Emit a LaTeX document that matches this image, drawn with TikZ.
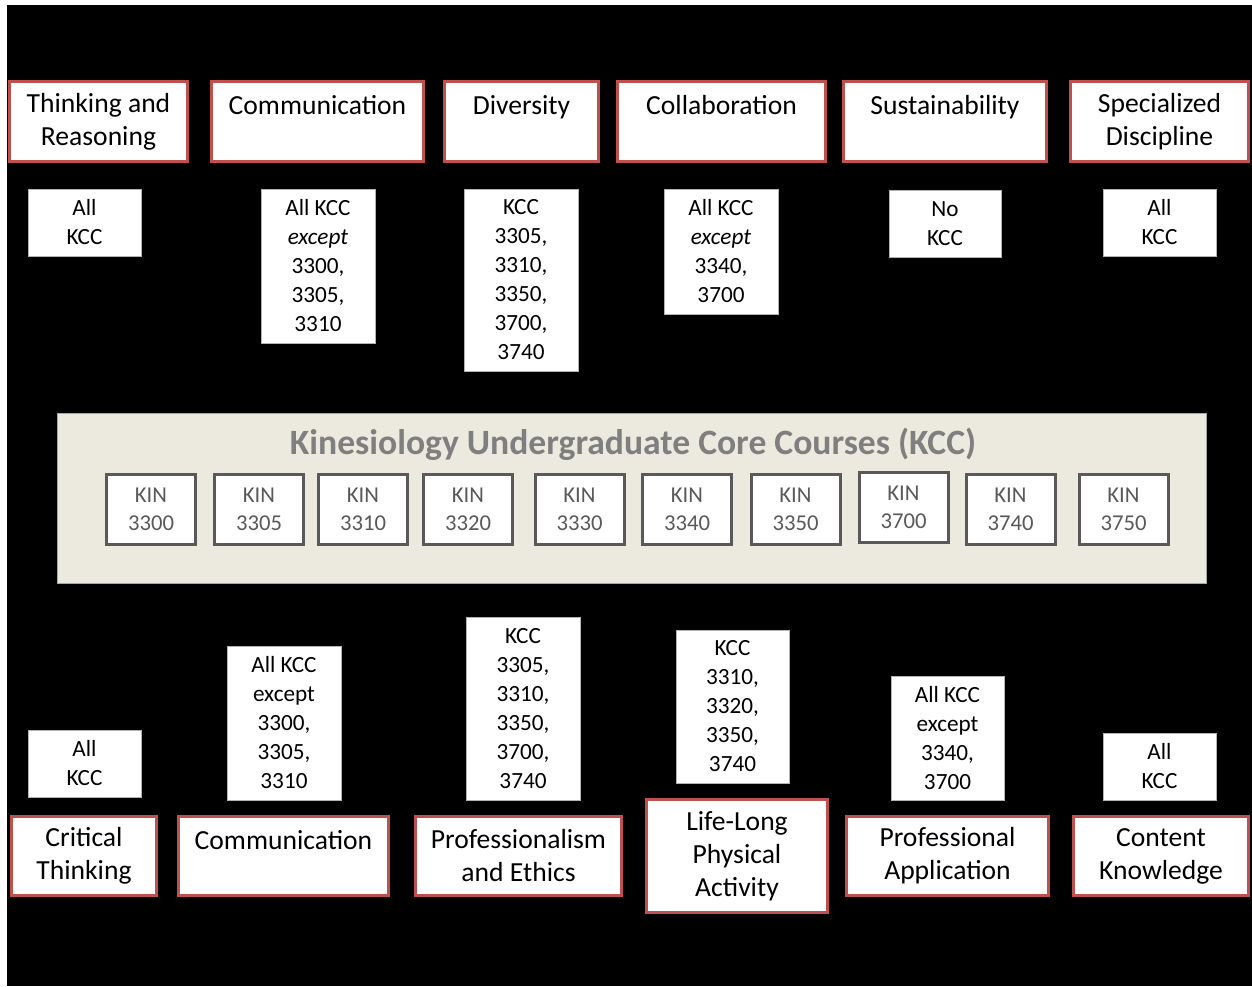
\documentclass[tikz,border=0pt]{standalone}
\usepackage{fontspec}
\setmainfont{Carlito}
\definecolor{kred}{RGB}{192,80,77}
\definecolor{kgray}{RGB}{89,89,89}
\definecolor{kband}{RGB}{236,233,223}
\definecolor{ktitle}{RGB}{127,127,127}
\begin{document}
\begin{tikzpicture}[x=0.75pt,y=-0.75pt,
  sz/.style 2 args={minimum width=#1*0.75pt, minimum height=#2*0.75pt},
  redbox/.style={draw=kred, line width=2.25pt, fill=white, align=center, inner sep=0pt,
    font=\fontsize{20.7}{24.75}\selectfont},
  whitebox/.style={draw=gray!60, line width=0.75pt, fill=white, align=center, inner sep=0pt,
    font=\fontsize{17.4}{21.75}\selectfont},
  kinbox/.style={draw=kgray, line width=2.25pt, fill=white, text=kgray, align=center, inner sep=0pt,
    sz={89}{70}, font=\fontsize{17}{21}\selectfont},
  band/.style={draw=gray!70, line width=0.75pt, fill=kband, inner sep=0pt},
  title/.style={text=ktitle, inner sep=0pt, font=\fontsize{26.7}{32}\selectfont\bfseries}
]
\useasboundingbox (0,0) rectangle (1252,986);
\fill[white] (0,0) rectangle (1252,986);
\fill[black] (7,5) rectangle (1252,986);

% top outcomes
\node[redbox, sz={178}{80}] (t1) at (98.5,121.5) {Thinking and\\Reasoning};
\node[redbox, sz={212}{80}] (t2) at (317.5,121.5) {Communication\\~};
\node[redbox, sz={154}{80}] (t3) at (521.5,121.5) {Diversity\\~};
\node[redbox, sz={208}{80}] (t4) at (721.5,121.5) {Collaboration\\~};
\node[redbox, sz={203}{80}] (t5) at (945,121.5) {Sustainability\\~};
\node[redbox, sz={178}{80}] (t6) at (1159.5,121.5) {Specialized\\Discipline};

% top mappings
\node[whitebox, sz={113}{67}] (tw1) at (84.5,222.5) {All\\KCC};
\node[whitebox, sz={114}{154}] (tw2) at (318,266) {All KCC\\\textit{except}\\3300,\\3305,\\3310};
\node[whitebox, sz={114}{182}] (tw3) at (521,280) {KCC\\3305,\\3310,\\3350,\\3700,\\3740};
\node[whitebox, sz={114}{125}] (tw4) at (721,251.5) {All KCC\\\textit{except}\\3340,\\3700};
\node[whitebox, sz={112}{67}] (tw5) at (945,223.5) {No\\KCC};
\node[whitebox, sz={113}{67}] (tw6) at (1159.5,222.5) {All\\KCC};

% central band
\node[band, sz={1149}{170}] (band) at (631.5,498) {};
\node[title] (title) at (633,444) {Kinesiology Undergraduate Core Courses (KCC)};
\node[kinbox] (k1) at (151,509.5) {KIN\\3300};
\node[kinbox] (k2) at (259,509.5) {KIN\\3305};
\node[kinbox] (k3) at (363,509.5) {KIN\\3310};
\node[kinbox] (k4) at (468,509.5) {KIN\\3320};
\node[kinbox] (k5) at (579.5,509.5) {KIN\\3330};
\node[kinbox] (k6) at (687,509.5) {KIN\\3340};
\node[kinbox] (k7) at (795.5,509.5) {KIN\\3350};
\node[kinbox] (k8) at (903.5,507) {KIN\\3700};
\node[kinbox] (k9) at (1010.5,509.5) {KIN\\3740};
\node[kinbox] (k10) at (1123.5,509.5) {KIN\\3750};

% bottom mappings
\node[whitebox, sz={113}{67}] (bw1) at (84.5,763.5) {All\\KCC};
\node[whitebox, sz={114}{154}] (bw2) at (284,723) {All KCC\\except\\3300,\\3305,\\3310};
\node[whitebox, sz={114}{183}] (bw3) at (523,708.5) {KCC\\3305,\\3310,\\3350,\\3700,\\3740};
\node[whitebox, sz={113}{153}] (bw4) at (732.5,706.5) {KCC\\3310,\\3320,\\3350,\\3740};
\node[whitebox, sz={113}{124}] (bw5) at (947.5,738) {All KCC\\except\\3340,\\3700};
\node[whitebox, sz={113}{67}] (bw6) at (1159.5,766.5) {All\\KCC};

% bottom outcomes
\node[redbox, sz={145}{79}] (b1) at (84,856) {Critical\\Thinking};
\node[redbox, sz={210}{79}] (b2) at (283.5,856) {Communication\\~};
\node[redbox, sz={206}{79}] (b3) at (518.5,856) {Professionalism\\and Ethics};
\node[redbox, sz={181}{113}] (b4) at (737,856) {Life-Long\\Physical\\Activity};
\node[redbox, sz={202}{79}] (b5) at (947.5,856) {Professional\\Application};
\node[redbox, sz={175}{79}] (b6) at (1161,856) {Content\\Knowledge};
\end{tikzpicture}
\end{document}
